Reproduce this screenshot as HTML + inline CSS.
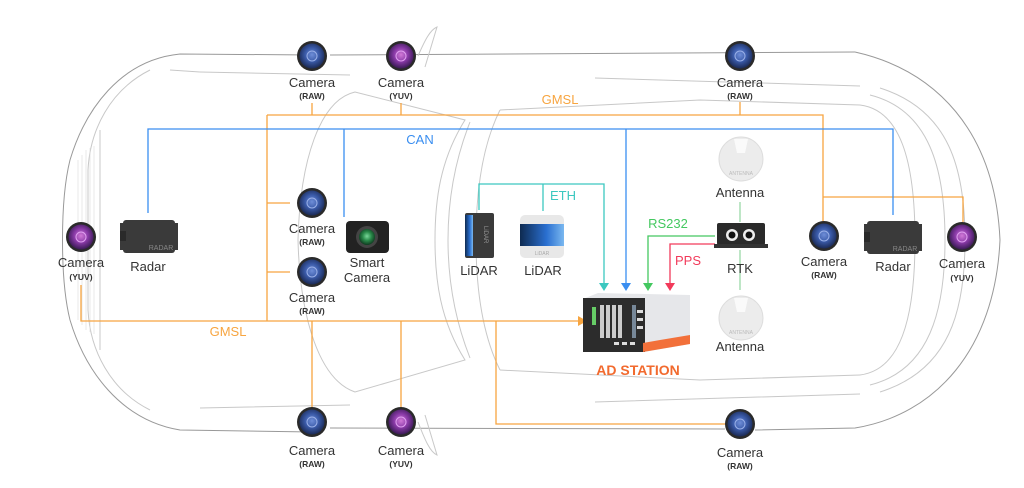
<!DOCTYPE html>
<html><head><meta charset="utf-8"><style>
html,body{margin:0;padding:0;background:#fff;}
svg{display:block;}
text{font-family:"Liberation Sans",sans-serif;}
</style></head><body>
<svg width="1024" height="488" viewBox="0 0 1024 488" xmlns="http://www.w3.org/2000/svg">
<defs>
<radialGradient id="cb" cx="50%" cy="45%" r="55%"><stop offset="0" stop-color="#6f8ed8"/><stop offset=".5" stop-color="#3a5aa8"/><stop offset="1" stop-color="#1b2a55"/></radialGradient>
<radialGradient id="cp" cx="50%" cy="45%" r="55%"><stop offset="0" stop-color="#d27ad8"/><stop offset=".5" stop-color="#8a3aa8"/><stop offset="1" stop-color="#3a1a55"/></radialGradient>
<radialGradient id="cg" cx="50%" cy="45%" r="55%"><stop offset="0" stop-color="#7ad89a"/><stop offset=".5" stop-color="#2a8a4a"/><stop offset="1" stop-color="#0f3a20"/></radialGradient>
<linearGradient id="ld" x1="0" x2="1"><stop offset="0" stop-color="#0e2a50"/><stop offset=".6" stop-color="#2a6fd0"/><stop offset="1" stop-color="#7ab8f0"/></linearGradient>
<g id="camB"><circle r="15" fill="#2a2a2a"/><circle r="12.5" fill="url(#cb)"/><circle r="5" fill="none" stroke="#9ab0e8" stroke-width="1"/></g>
<g id="camP"><circle r="15" fill="#2a2a2a"/><circle r="12.5" fill="url(#cp)"/><circle r="5" fill="none" stroke="#e0a0f0" stroke-width="1"/></g>
<g id="radar"><rect x="-26" y="-16" width="52" height="33" rx="3" fill="#3a3a3a"/><rect x="-29" y="-13" width="4" height="27" fill="#3a3a3a"/><rect x="25" y="-13" width="4" height="27" fill="#3a3a3a"/><rect x="-29" y="-5" width="6" height="10" fill="#2a2a2a"/><text x="12" y="14" font-size="7" fill="#888" text-anchor="middle">RADAR</text></g>
<g id="ant"><circle r="22" fill="#ececec" stroke="#ddd"/><path d="M-7,-20 L7,-20 L4,-6 L-4,-6Z" fill="#fafafa"/><text y="16" font-size="5" fill="#bbb" text-anchor="middle">ANTENNA</text></g>
</defs>

<!-- car outline -->
<g fill="none" stroke="#c8c8c8" stroke-width="1">
<path d="M312,55 L180,54 C120,60 85,110 70,160 C60,200 60,280 70,320 C85,370 120,420 180,430 L312,432" stroke="#999"/>
<path d="M330,55 L855,52" stroke="#999"/>
<path d="M855,52 C935,70 995,130 1000,240 C995,350 935,415 855,428 L755,430" stroke="#999"/>
<path d="M330,428 L725,429" stroke="#999"/>
<path d="M418,56 C425,40 430,30 437,27 L425,67"/>
<path d="M418,422 C425,440 430,452 437,455 L425,415"/>
<path d="M150,70 C110,90 90,130 88,170 L88,310 C90,350 110,390 150,410"/>
<path d="M200,72 L350,75 M200,408 L350,405"/>
<path d="M355,92 C320,100 300,160 298,240 C300,320 320,380 355,392 L465,360 C440,320 435,280 435,240 C435,200 440,160 465,120 Z"/>
<path d="M470,122 C455,160 448,200 448,240 C448,280 455,320 470,358"/>
<path d="M500,110 C480,150 476,200 476,240 C476,280 480,330 500,370"/>
<path d="M500,110 L700,100 L860,105 M500,370 L700,380 L860,375"/>
<path d="M860,105 C900,110 915,160 915,240 C915,320 900,370 860,375"/>
<path d="M870,95 C930,110 945,170 945,240 C945,310 930,370 870,385"/>
<path d="M880,88 C950,110 965,170 965,240 C965,310 950,370 880,392"/>
<path d="M170,70 L200,72 M100,130 L100,350"/>
<path d="M595,78 L860,86 M595,402 L860,394"/>
</g>
<g stroke="#ddd" stroke-width="0.6">
<path d="M78,160 L78,320 M82,155 L82,325 M86,150 L86,330 M90,148 L90,332 M94,146 L94,334"/>
</g>

<!-- orange GMSL -->
<g fill="none" stroke="#f7a540" stroke-width="1.3">
<path d="M312,103 V115 M401,103 V115 M740,102 V115 M267,115 H823 V222 M823,197 H963 V222"/>
<path d="M267,115 V321 M267,203 H290 M267,272 H290"/>
<path d="M81,285 V321 H578"/>
<path d="M312,321 V408 M401,321 V408 M496,321 V424 H725"/>
</g>
<path d="M578,316 L587,321 L578,326Z" fill="#f7a540"/>

<!-- blue CAN -->
<g fill="none" stroke="#3a8ef0" stroke-width="1.3">
<path d="M148,213 V129 H893 V215 M344,129 V217 M626,129 V283"/>
</g>
<path d="M621,283 L631,283 L626,291Z" fill="#3a8ef0"/>

<!-- teal ETH -->
<g fill="none" stroke="#3cc8c0" stroke-width="1.3">
<path d="M479,210 V184 H604 V283 M543,184 V211"/>
</g>
<path d="M599,283 L609,283 L604,291Z" fill="#3cc8c0"/>

<!-- green RS232 -->
<g fill="none" stroke="#44c860" stroke-width="1.3"><path d="M715,236 H648 V283"/></g>
<path d="M643,283 L653,283 L648,291Z" fill="#44c860"/>
<g stroke="#9ad8a8" stroke-width="1.3"><path d="M740,202 V222 M740,250 V290"/></g>

<!-- red PPS -->
<g fill="none" stroke="#f23a5a" stroke-width="1.3"><path d="M715,244 H670 V283"/></g>
<path d="M665,283 L675,283 L670,291Z" fill="#f23a5a"/>

<!-- labels for buses -->
<text x="560" y="104" font-size="13" fill="#f7a540" text-anchor="middle">GMSL</text>
<text x="228" y="336" font-size="13" fill="#f7a540" text-anchor="middle">GMSL</text>
<text x="420" y="144" font-size="13" fill="#3a8ef0" text-anchor="middle">CAN</text>
<text x="563" y="200" font-size="13" fill="#3cc8c0" text-anchor="middle">ETH</text>
<text x="668" y="228" font-size="13" fill="#44c860" text-anchor="middle">RS232</text>
<text x="688" y="265" font-size="13" fill="#f23a5a" text-anchor="middle">PPS</text>

<!-- cameras -->
<use href="#camB" x="312" y="56"/><use href="#camP" x="401" y="56"/><use href="#camB" x="740" y="56"/>
<use href="#camB" x="312" y="203"/><use href="#camB" x="312" y="272"/><use href="#camP" x="81" y="237"/>
<use href="#camB" x="824" y="236"/><use href="#camP" x="962" y="237"/>
<use href="#camB" x="312" y="422"/><use href="#camP" x="401" y="422"/><use href="#camB" x="740" y="424"/>

<g font-size="13" fill="#333" text-anchor="middle">
<text x="312" y="87">Camera</text><text x="401" y="87">Camera</text><text x="740" y="87">Camera</text>
<text x="312" y="233">Camera</text><text x="312" y="302">Camera</text><text x="81" y="267">Camera</text>
<text x="824" y="266">Camera</text><text x="962" y="268">Camera</text>
<text x="312" y="455">Camera</text><text x="401" y="455">Camera</text><text x="740" y="457">Camera</text>
<text x="148" y="271">Radar</text><text x="893" y="271">Radar</text>
<text x="367" y="267">Smart</text><text x="367" y="282">Camera</text>
<text x="479" y="275">LiDAR</text><text x="543" y="275">LiDAR</text>
<text x="740" y="197">Antenna</text><text x="740" y="351">Antenna</text><text x="740" y="273">RTK</text>
</g>
<g font-size="8.5" fill="#333" text-anchor="middle" font-weight="bold">
<text x="312" y="99">(RAW)</text><text x="401" y="99">(YUV)</text><text x="740" y="99">(RAW)</text>
<text x="312" y="245">(RAW)</text><text x="312" y="314">(RAW)</text><text x="81" y="280">(YUV)</text>
<text x="824" y="278">(RAW)</text><text x="962" y="281">(YUV)</text>
<text x="312" y="467">(RAW)</text><text x="401" y="467">(YUV)</text><text x="740" y="469">(RAW)</text>
</g>

<!-- radars -->
<use href="#radar" x="149" y="236"/><use href="#radar" x="893" y="237"/>

<!-- smart camera -->
<rect x="346" y="221" width="43" height="32" rx="4" fill="#222"/>
<circle cx="367" cy="237" r="11" fill="#444"/><circle cx="367" cy="237" r="8" fill="url(#cg)"/>

<!-- lidars -->
<rect x="465" y="213" width="29" height="45" rx="2" fill="#3a3a3a"/>
<rect x="465" y="215" width="8" height="41" fill="url(#ld)"/>
<text x="484" y="226" font-size="6" fill="#999" transform="rotate(90 484 226)">LiDAR</text>
<rect x="520" y="215" width="44" height="43" rx="5" fill="#e8e8e8"/>
<rect x="520" y="224" width="44" height="22" fill="url(#ld)"/>
<text x="542" y="255" font-size="5" fill="#aaa" text-anchor="middle">LiDAR</text>

<!-- antennas -->
<use href="#ant" x="741" y="159"/><use href="#ant" x="741" y="318"/>

<!-- RTK -->
<rect x="717" y="223" width="48" height="22" rx="2" fill="#2a2a2a"/>
<rect x="714" y="244" width="54" height="4" fill="#333"/>
<circle cx="732" cy="235" r="6" fill="#eee"/><circle cx="732" cy="235" r="3.5" fill="#111"/>
<circle cx="749" cy="235" r="6" fill="#eee"/><circle cx="749" cy="235" r="3.5" fill="#111"/>

<!-- AD station -->
<path d="M583,299 L598,293 L690,295 L690,344 L644,352 L583,351Z" fill="#e6e7ea"/>
<rect x="583" y="298" width="62" height="54" fill="#2c2c2c"/>
<path d="M643,352 L690,344 L690,335 L660,340 L643,343Z" fill="#f2703a"/>
<rect x="592" y="307" width="4" height="18" fill="#6c6"/>
<rect x="600" y="305" width="4" height="33" fill="#ccc"/><rect x="606" y="305" width="4" height="33" fill="#ccc"/>
<rect x="612" y="305" width="4" height="33" fill="#ccc"/><rect x="618" y="305" width="4" height="33" fill="#ccc"/>
<rect x="632" y="305" width="4" height="33" fill="#789"/>
<rect x="637" y="310" width="6" height="3" fill="#ddd"/><rect x="637" y="318" width="6" height="3" fill="#ddd"/><rect x="637" y="326" width="6" height="3" fill="#ddd"/>
<rect x="614" y="342" width="5" height="3" fill="#ddd"/><rect x="622" y="342" width="5" height="3" fill="#ddd"/><rect x="630" y="342" width="5" height="3" fill="#ddd"/>
<text x="638" y="375" font-size="14" font-weight="bold" fill="#f26a2e" text-anchor="middle">AD STATION</text>
</svg>
</body></html>
